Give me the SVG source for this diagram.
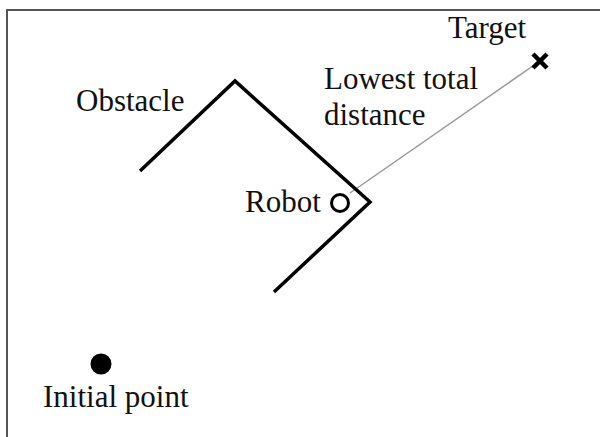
<svg xmlns="http://www.w3.org/2000/svg" width="600" height="437" viewBox="0 0 600 437">
<style>
  .lbl { font-family: 'Liberation Serif', serif; font-size: 31px; fill: #111; }
  .obs { fill: none; stroke: #000; stroke-width: 3.5; stroke-linejoin: miter; }
  .frame { stroke: #555; stroke-width: 2; fill: none; }
</style>
<rect width="600" height="437" fill="#fff"/>
<path class="frame" d="M7,437 V10 H600"/>
<g id="connectors">
  <line x1="350" y1="193" x2="540" y2="61" stroke="#999" stroke-width="1.5"/>
</g>
<g id="obstacle">
  <path class="obs" d="M140,171 L235,81 L370,202 L274,292"/>
  <text class="lbl" x="76" y="111">Obstacle</text>
</g>
<g id="robot">
  <circle cx="340" cy="203" r="8.5" fill="none" stroke="#000" stroke-width="3"/>
  <text class="lbl" x="245" y="212">Robot</text>
</g>
<g id="target">
  <path d="M533,54 L547,68 M547,54 L533,68" stroke="#000" stroke-width="4.5"/>
  <text class="lbl" x="448" y="38">Target</text>
</g>
<g id="path-label">
  <text class="lbl" x="324" y="89">Lowest total</text>
  <text class="lbl" x="324" y="125">distance</text>
</g>
<g id="initial">
  <circle cx="101" cy="364" r="10.5" fill="#000"/>
  <text class="lbl" x="43" y="407">Initial point</text>
</g>
</svg>
